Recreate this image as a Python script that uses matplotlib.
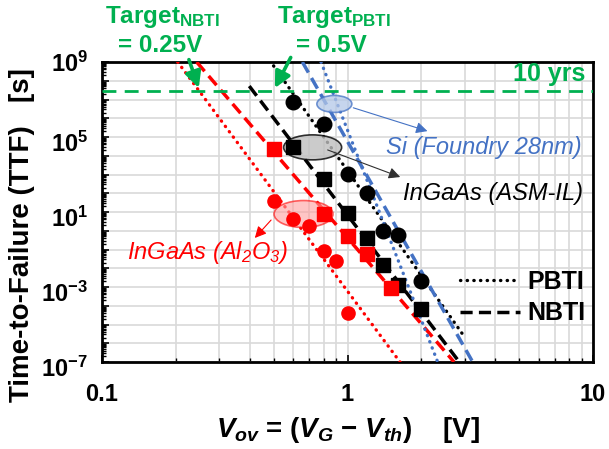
import numpy as np
import matplotlib
matplotlib.use("Agg")
import matplotlib.pyplot as plt
from matplotlib.patches import Ellipse
from matplotlib.transforms import ScaledTranslation
from matplotlib.lines import Line2D
from matplotlib.ticker import FixedLocator, FuncFormatter, NullFormatter

plt.rcParams.update({
    "font.family": ["Liberation Sans", "DejaVu Sans"],
    "mathtext.fontset": "custom",
    "mathtext.rm": "Liberation Sans:bold",
    "mathtext.it": "Liberation Sans:italic:bold",
    "mathtext.bf": "Liberation Sans:bold",
})

# ---- measured lifetimes -------------------------------------------------
# InGaAs with ASM interlayer
asm_pbti_v = [0.6, 0.8, 1.0, 1.2, 1.4, 1.6, 2.0]
asm_pbti_ttf = [7.6e6, 4.8e5, 1.1e3, 100, 1.0, 0.59, 2.1e-3]
asm_nbti_v = [0.6, 0.8, 1.0, 1.2, 1.4, 1.6, 2.0]
asm_nbti_ttf = [3.0e4, 550, 8.5, 0.40, 0.015, 1.3e-3, 6.5e-5]
# InGaAs with Al2O3
al_nbti_v = [0.5, 0.8, 1.0, 1.2, 1.5]
al_nbti_ttf = [2.2e4, 8.0, 0.52, 0.055, 8.5e-4]
al_pbti_v = [0.5, 0.6, 0.7, 0.8, 0.9, 1.0]
al_pbti_ttf = [39, 4.1, 1.8, 0.087, 0.025, 4.0e-5]

# ---- power-law extrapolations (two end points each) ----------------------
al_pbti_fit_v = [0.2034, 1.636]
al_pbti_fit_ttf = [1e9, 1e-7]
al_nbti_fit_v = [0.243, 2.716]
al_nbti_fit_ttf = [1e9, 1e-7]
asm_nbti_fit_v = [0.398, 2.854]
asm_nbti_fit_ttf = [5.2e7, 1e-7]
asm_pbti_fit_v = [0.5, 2.96]
asm_pbti_fit_ttf = [6.2e8, 2.75e-6]
si_nbti_fit_v = [0.655, 3.236]
si_nbti_fit_ttf = [1e9, 1e-7]
si_pbti_fit_v = [0.78, 2.33]
si_pbti_fit_ttf = [1e9, 1e-7]

ten_years_ttf = 3.0e7
target_nbti_v = 0.25
target_pbti_v = 0.5

RED = "#ff0000"
BLUE = "#4472c4"
GREEN = "#00b050"
GRID = "#d9d9d9"

fig = plt.figure(figsize=(6.09, 4.49), dpi=100)
ax = fig.add_axes([102 / 609, 1 - 362 / 449, 491 / 609, 300 / 449])
ax.set_xscale("log")
ax.set_yscale("log")
ax.set_xlim(0.1, 10)
ax.set_ylim(1e-7, 1e9)

dot = (0, (0.1, 1.9))
dash = (0, (3.5, 1.8))
dot_kw = dict(ls=dot, lw=2.4, dash_capstyle="round", zorder=3)
dash_kw = dict(ls=dash, lw=2.5, zorder=3)

ax.plot(al_pbti_fit_v, al_pbti_fit_ttf, color=RED, **dot_kw)
ax.plot(al_nbti_fit_v, al_nbti_fit_ttf, color=RED, **dash_kw)
ax.plot(asm_pbti_fit_v, asm_pbti_fit_ttf, color="black", **dot_kw)
ax.plot(asm_nbti_fit_v, asm_nbti_fit_ttf, color="black", **dash_kw)
ax.plot(si_pbti_fit_v, si_pbti_fit_ttf, color=BLUE, **dot_kw)
ax.plot(si_nbti_fit_v, si_nbti_fit_ttf, color=BLUE, **dash_kw)

ax.plot(asm_pbti_v, asm_pbti_ttf, "o", color="black", ms=10.5, zorder=5)
ax.plot(asm_nbti_v, asm_nbti_ttf, "s", color="black", ms=9.5, zorder=5)
ax.plot(al_nbti_v, al_nbti_ttf, "s", color=RED, ms=9.5, zorder=5)
ax.plot(al_pbti_v, al_pbti_ttf, "o", color=RED, ms=9.5, zorder=5)

# 10-year criterion
ax.axhline(ten_years_ttf, color=GREEN, ls=(0, (5, 3)), lw=2, zorder=4)
ax.text(0.985, 0.96, "10 yrs", transform=ax.transAxes, ha="right", va="center",
        color=GREEN, fontsize=18, fontweight="bold", zorder=6)


def ring(xc, yc, w_px, h_px, face, edge, alpha):
    tr = fig.dpi_scale_trans + ScaledTranslation(xc, yc, ax.transData)
    ax.add_patch(Ellipse((0, 0), w_px / 100, h_px / 100, transform=tr,
                         facecolor=face, edgecolor=edge, lw=1.2, alpha=alpha, zorder=4))


ring(0.884, 5.8e6, 35, 17, "#b4c7e7", BLUE, 0.75)
ring(0.721, 2.8e4, 58, 25, "#bfbfbf", "black", 0.8)
ring(0.662, 7.8, 59, 27, "#ff9f9f", RED, 0.6)

arrow_thin = dict(arrowstyle="-|>", lw=0.8, mutation_scale=17)
ax.annotate("", xy=(2.17, 1.86e5), xytext=(1.03, 4e6),
            arrowprops=dict(color=BLUE, **arrow_thin), zorder=6)
ax.annotate("", xy=(1.68, 650), xytext=(0.81, 2.3e4),
            arrowprops=dict(color="#303030", **arrow_thin), zorder=6)
ax.annotate("", xy=(0.412, 0.32), xytext=(0.497, 4.8),
            arrowprops=dict(color=RED, **arrow_thin), zorder=6)

ax.text(9.02, 2.6e4, "Si (Foundry 28nm)", color=BLUE, fontsize=17, style="italic",
        ha="right", va="center", zorder=6)
ax.text(9.1, 102, "InGaAs (ASM-IL)", color="black", fontsize=17, style="italic",
        ha="right", va="center", zorder=6)
ax.text(0.1264, 0.07, r"InGaAs (Al$\mathregular{_2}$O$\mathregular{_3}$)", color=RED,
        fontsize=17, style="italic", ha="left", va="center", zorder=6)

# targets
arrow_green = dict(arrowstyle="-|>", color=GREEN, lw=2.6, mutation_scale=24)
ax.annotate("", xy=(target_nbti_v, ten_years_ttf), xytext=(188, 449 - 57),
            textcoords="figure pixels", arrowprops=arrow_green, annotation_clip=False, zorder=6)
ax.annotate("", xy=(target_pbti_v, ten_years_ttf), xytext=(292, 449 - 55),
            textcoords="figure pixels", arrowprops=arrow_green, annotation_clip=False, zorder=6)
fig.text(162 / 609, 1 - 17 / 449, r"Target$_{\mathrm{NBTI}}$", color=GREEN, fontsize=17.5,
         fontweight="bold", ha="center", va="center")
fig.text(160 / 609, 1 - 45 / 449, "= 0.25V", color=GREEN, fontsize=17.5,
         fontweight="bold", ha="center", va="center")
fig.text(334 / 609, 1 - 17 / 449, r"Target$_{\mathrm{PBTI}}$", color=GREEN, fontsize=17.5,
         fontweight="bold", ha="center", va="center")
fig.text(331 / 609, 1 - 45 / 449, "= 0.5V", color=GREEN, fontsize=17.5,
         fontweight="bold", ha="center", va="center")

# legend for the line styles
handles = [Line2D([], [], color="black", ls=dot, lw=2.4, dash_capstyle="round"),
           Line2D([], [], color="black", ls=dash, lw=2.5)]
ax.legend(handles, ["PBTI", "NBTI"], loc="center right", bbox_to_anchor=(0.984, 0.215),
          frameon=False, handlelength=2.4, handletextpad=0.3, labelspacing=0.3,
          borderpad=0, borderaxespad=0, prop=dict(weight="bold", size=18))

# axes styling
ax.xaxis.set_major_locator(FixedLocator([0.1, 1, 10]))
ax.xaxis.set_minor_locator(FixedLocator([m * d for d in (0.1, 1) for m in range(2, 10)]))
ax.xaxis.set_major_formatter(FuncFormatter(lambda v, p: "%g" % v))
ax.xaxis.set_minor_formatter(NullFormatter())
decades = [10.0 ** k for k in range(-7, 10)]
ax.yaxis.set_major_locator(FixedLocator(decades))
ax.yaxis.set_minor_locator(FixedLocator([m * d for d in decades[:-1] for m in range(2, 10)]))
ax.yaxis.set_major_formatter(FuncFormatter(
    lambda v, p: r"$\mathdefault{10^{%d}}$" % round(np.log10(v)) if round(np.log10(v)) % 4 == 1 else ""))
ax.yaxis.set_minor_formatter(NullFormatter())

ax.grid(True, which="major", color=GRID, lw=1.2, zorder=0)
ax.grid(True, which="minor", axis="x", color=GRID, lw=1.2, zorder=0)
ax.set_axisbelow(True)
ax.tick_params(which="both", direction="in", color="black")
ax.tick_params(which="major", length=5, width=1.2)
ax.tick_params(which="minor", length=3, width=1)
ax.tick_params(axis="x", pad=15, labelsize=17)
ax.tick_params(axis="y", pad=10, labelsize=17)
for lab in ax.get_xticklabels() + ax.get_yticklabels():
    lab.set_fontweight("bold")
# lower y labels sit a few pixels below their gridline
shift = ScaledTranslation(0, -5 / 100, fig.dpi_scale_trans)
for tick in ax.yaxis.get_major_ticks():
    if tick.get_loc() < 1e8:
        tick.label1.set_transform(tick.label1.get_transform() + shift)
for s in ax.spines.values():
    s.set_linewidth(2)
    s.set_color("black")

fig.text(22 / 609, 1 - 235 / 449, "Time-to-Failure (TTF)   [s]", rotation=90,
         fontsize=20, fontweight="bold", ha="center", va="center")
fig.text(348 / 609, 1 - 430 / 449, r"$V_{ov}$ = ($V_G$ $-$ $V_{th}$)    [V]",
         fontsize=20, fontweight="bold", ha="center", va="center")

fig.savefig("out.png", dpi=100)
